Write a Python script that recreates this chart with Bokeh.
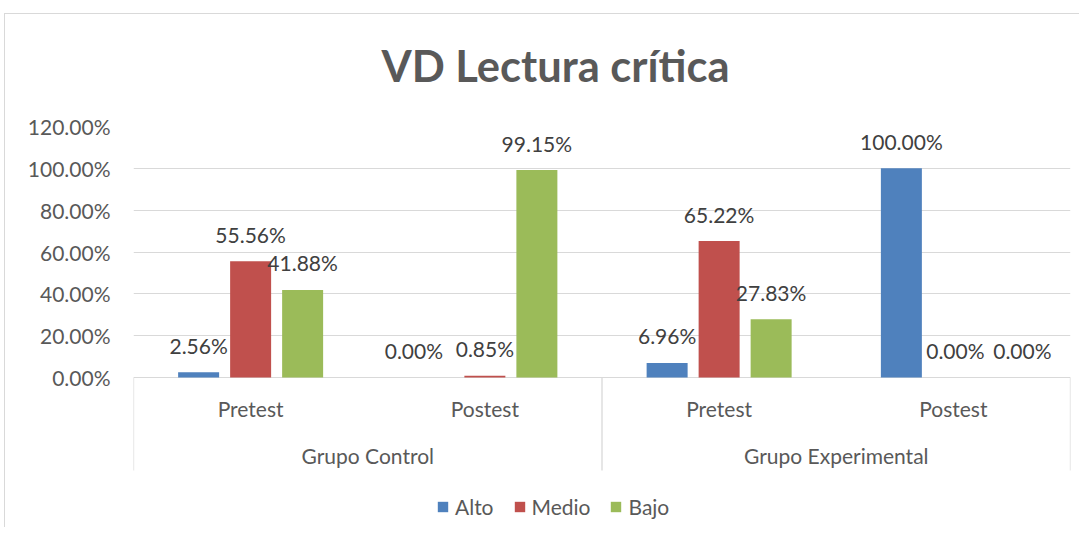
from bokeh.plotting import figure
from bokeh.models import (FactorRange, Range1d, ColumnDataSource, FixedTicker,
                          NumeralTickFormatter, InlineStyleSheet)
from bokeh.transform import dodge
from bokeh.core.properties import value
from bokeh.embed import file_html
from bokeh.resources import INLINE

# ---- data ----
groups = ["Grupo Control", "Grupo Control", "Grupo Experimental", "Grupo Experimental"]
phases = ["Pretest", "Postest", "Pretest", "Postest"]
series = ["Alto", "Medio", "Bajo"]
alto = [0.0256, 0.0, 0.0696, 1.0]
medio = [0.5556, 0.0085, 0.6522, 0.0]
bajo = [0.4188, 0.9915, 0.2783, 0.0]
y_ticks = [0.0, 0.2, 0.4, 0.6, 0.8, 1.0, 1.2]
title_text = "VD Lectura crítica"

# label nudges (px) so neighbouring zero labels do not overlap, as in the original
nudge_alto = [0, -19, 0, 0]
nudge_medio = [0, 0, 0, 2]
nudge_bajo = [0, 0, 0, 17]

colors = ["#4F81BD", "#C0504D", "#9BBB59"]
FONT = value("Lato")
TXT = "#595959"

x = list(zip(groups, phases))
src = ColumnDataSource(dict(
    x=x, alto=alto, medio=medio, bajo=bajo,
    alto_lbl=[f"{v*100:.2f}%" for v in alto],
    medio_lbl=[f"{v*100:.2f}%" for v in medio],
    bajo_lbl=[f"{v*100:.2f}%" for v in bajo],
    alto_dx=nudge_alto, medio_dx=nudge_medio, bajo_dx=nudge_bajo,
))

x_range = FactorRange(factors=x, range_padding=0, group_padding=0,
                      factor_padding=0, subgroup_padding=0)
p = figure(width=1078, height=527, x_range=x_range, y_range=Range1d(-0.7171, 1.2),
           x_axis_location=None, toolbar_location=None, output_backend="svg",
           min_border_left=133, min_border_right=8, min_border_top=126,
           min_border_bottom=0, outline_line_color=None)

p.title.text = title_text
p.title.text_font = "Lato"
p.title.text_font_style = "bold"
p.title.text_font_size = "43.5px"
p.title.text_color = TXT
p.title.align = "left"
p.title.offset = 248
p.title.standoff = 71

# y axis
ya = p.yaxis[0]
ya.ticker = FixedTicker(ticks=y_ticks)
ya.formatter = NumeralTickFormatter(format="0.00%")
ya.axis_line_color = None
ya.major_tick_line_color = None
ya.minor_tick_line_color = None
ya.major_tick_out = 0
ya.major_tick_in = 0
ya.major_label_standoff = 23
ya.major_label_text_font = "Lato"
ya.major_label_text_font_size = "21px"
ya.major_label_text_color = TXT

p.xgrid.grid_line_color = None
p.ygrid.grid_line_color = "#D9D9D9"
p.ygrid.grid_line_width = 1

offsets = [-0.222, 0.0, 0.222]
cols = ["alto", "medio", "bajo"]
for off, col, c, name in zip(offsets, cols, colors, series):
    p.vbar(x=dodge("x", off, range=p.x_range), top=col, width=0.175, source=src,
           fill_color=c, line_color=None, legend_label=name)
    p.text(x=dodge("x", off, range=p.x_range), y=col, text=col + "_lbl", source=src,
           x_offset=col + "_dx", y_offset=-27, text_align="center", text_baseline="middle",
           text_font=FONT, text_font_size="21px", text_color="#404040")

# category separators (Excel-style multi-level axis)
sep_x = [("Grupo Control", "Pretest", -0.5), ("Grupo Control", "Postest", 0.5),
         ("Grupo Experimental", "Postest", 0.5)]
p.segment(x0=sep_x, x1=sep_x, y0=[0] * 3, y1=[-0.4446] * 3,
          line_color="#D9D9D9", line_width=1.3)

# category labels
p.text(x=x, y=[0] * len(x), text=phases, y_offset=31, text_align="center",
       text_baseline="middle", text_font=FONT, text_font_size="21px", text_color=TXT)
grp_unique = ["Grupo Control", "Grupo Experimental"]
p.text(x=grp_unique, y=[0] * 2, text=grp_unique, y_offset=78, text_align="center",
       text_baseline="middle", text_font=FONT, text_font_size="21px", text_color=TXT)

lg = p.legend[0]
lg.location = (303, 8)
lg.orientation = "horizontal"
lg.label_text_font = "Lato"
lg.label_text_font_size = "21px"
lg.label_text_color = TXT
lg.glyph_width = 13
lg.glyph_height = 13
lg.label_standoff = 6
lg.spacing = 19
lg.padding = 0
lg.margin = 0
lg.border_line_color = None
lg.background_fill_alpha = 0

p.stylesheets = [InlineStyleSheet(css="""
:host { position: relative; }
:host::after { content: ''; position: absolute; left: 4px; top: 13px;
  width: 1074px; height: 513px; border-left: 1px solid #D9D9D9;
  border-top: 1px solid #D9D9D9; pointer-events: none; z-index: 5; }
""")]

open("out.html", "w").write(file_html(p, INLINE))
